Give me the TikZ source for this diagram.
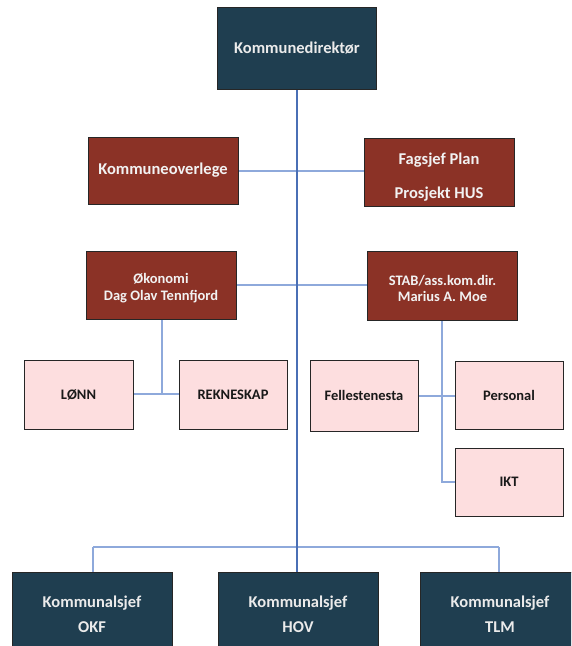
\documentclass[tikz,border=0pt]{standalone}
\usepackage{fontspec}
\setmainfont{Carlito}
\definecolor{navy}{HTML}{1F3E50}
\definecolor{brick}{HTML}{8B3226}
\definecolor{blush}{HTML}{FDDEDF}
\definecolor{spine}{HTML}{4A6FB5}
\definecolor{link}{HTML}{8EA9DB}
\tikzset{
  orgbox/.style={draw=black!85, line width=0.9pt, inner sep=0pt, align=center, font=\bfseries},
  darkbox/.style={orgbox, fill=navy, text=white!92!black},
  redbox/.style={orgbox, fill=brick, text=white!95!black},
  pinkbox/.style={orgbox, fill=blush, text=black!90},
  bigtxt/.style={font=\bfseries\fontsize{16.5}{25}\selectfont},
  midtxt/.style={font=\bfseries\fontsize{14.5}{16.5}\selectfont},
  smalltxt/.style={font=\bfseries\fontsize{14.5}{17}\selectfont},
  mainline/.style={draw=spine, line width=1.5pt},
  subline/.style={draw=link, line width=1.5pt},
}
\begin{document}
\begin{tikzpicture}[x=1pt,y=-1pt]
\useasboundingbox (0,0) rectangle (571,646);
\clip (0,0) rectangle (571,646);

% coordinates of the connector corners
\coordinate (spineTop) at (297,89);
\coordinate (busL) at (93,547);
\coordinate (busM) at (297,547);
\coordinate (busR) at (499,547);
\coordinate (okoJoin) at (162,394);
\coordinate (stabEnd) at (442,482);

% connectors (drawn first so boxes sit on top)
\draw[subline] (163,171) -- (439,171);
\draw[subline] (161,285) -- (442,285);
\draw[subline] (162,319) -- (okoJoin);
\draw[subline] (78,394) -- (233,394);
\draw[subline] (442,320) -- (stabEnd) -- (509,482);
\draw[subline] (364,396) -- (509,396);
\draw[subline] (busL) -- (busR);
\draw[subline] (busL) -- (93,600);
\draw[subline] (busR) -- (499,600);
\draw[mainline] (spineTop) -- (busM) -- (297,600);

% top
\node[darkbox, bigtxt, minimum width=159pt, minimum height=82pt] (dir) at (297,48) {Kommunedirektør};

% staff level
\node[redbox, bigtxt, minimum width=150pt, minimum height=67pt] (overlege) at (163,170.5) {Kommuneoverlege};
\node[redbox, font=\bfseries\fontsize{16.5}{34}\selectfont, minimum width=150pt, minimum height=68pt] (fagsjef) at (439,172) {\rule{0pt}{22pt}Fagsjef Plan\\Prosjekt HUS};

% second level
\node[redbox, midtxt, minimum width=150pt, minimum height=68pt] (oko) at (161,285) {\rule{0pt}{16pt}Økonomi\\Dag Olav Tennfjord};
\node[redbox, midtxt, minimum width=150pt, minimum height=69pt] (stab) at (442.5,285.5) {\rule{0pt}{16pt}STAB/ass.kom.dir.\\Marius A. Moe};

% units
\node[pinkbox, smalltxt, minimum width=109pt, minimum height=69pt] (lonn) at (78.5,394.5) {LØNN};
\node[pinkbox, smalltxt, minimum width=108pt, minimum height=69pt] (rekn) at (233,395) {REKNESKAP};
\node[pinkbox, smalltxt, minimum width=108pt, minimum height=71pt] (felles) at (364,395.5) {Fellestenesta};
\node[pinkbox, smalltxt, minimum width=108pt, minimum height=68pt] (personal) at (509,395.5) {Personal};
\node[pinkbox, smalltxt, minimum width=108pt, minimum height=68pt] (ikt) at (509,482) {IKT};

% bottom level (boxes run past the lower edge)
\node[darkbox, bigtxt, minimum width=160pt, minimum height=85pt] (okf) at (92,614.5) {Kommunalsjef\\OKF};
\node[darkbox, bigtxt, minimum width=160pt, minimum height=85pt] (hov) at (298,614.5) {Kommunalsjef\\HOV};
\node[darkbox, bigtxt, minimum width=160pt, minimum height=85pt] (tlm) at (500,614.5) {Kommunalsjef\\TLM};
\end{tikzpicture}
\end{document}
